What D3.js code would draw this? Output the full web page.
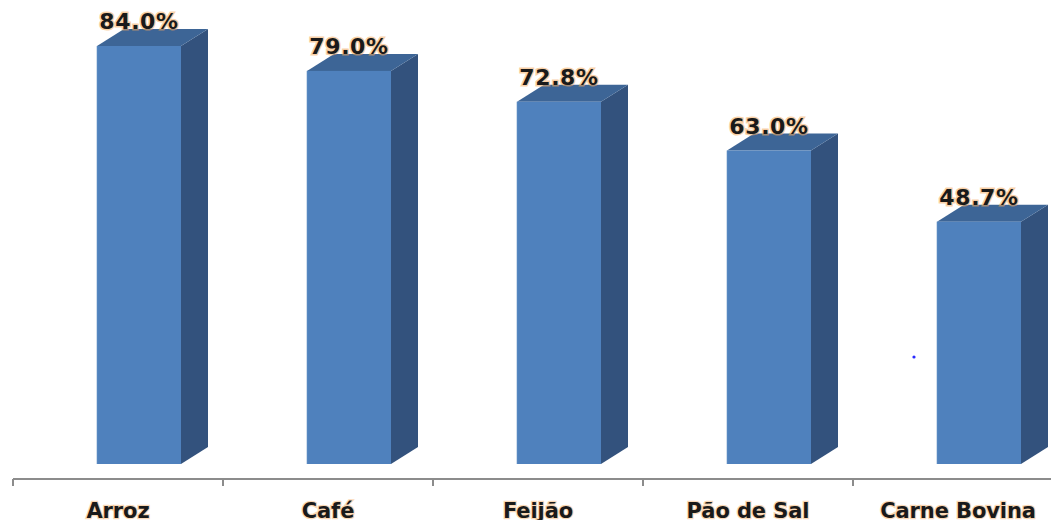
<!DOCTYPE html>
<html>
<head>
<meta charset="utf-8">
<script src="https://cdn.jsdelivr.net/npm/d3@7"></script>
<style>
  html, body { margin: 0; padding: 0; background: #fff; }
  svg { display: block; }
</style>
</head>
<body>
<svg id="chart" width="1051" height="520"></svg>
<script>
const categories = ["Arroz", "Café", "Feijão", "Pão de Sal", "Carne Bovina"];
const values = [84.0, 79.0, 72.8, 63.0, 48.7];
const valueLabels = ["84.0%", "79.0%", "72.8%", "63.0%", "48.7%"];

const svg = d3.select("#chart");
const W = 1051, H = 520;

const x = d3.scaleBand().domain(categories).range([13, 1063]).padding(0);
const y = d3.scaleLinear().domain([0, 84]).range([464, 46]);
const bw = x.bandwidth();
const dx = 27, dy = -17;

const colFront = "#4F81BD", colTop = "#3D6596", colSide = "#33527D";

// axis
const axisY = 479;
const axis = d3.axisBottom(x).tickSize(0).tickFormat("");
const ag = svg.append("g").attr("transform", `translate(0,${axisY})`).call(axis);
ag.select(".domain").attr("stroke", "#8c8c8c").attr("stroke-width", 2)
  .attr("d", `M13,0H${W}`);
ag.selectAll(".tick").remove();
const edges = categories.map(c => x(c));
ag.selectAll("line.edge").data(edges).enter().append("line")
  .attr("class", "edge")
  .attr("x1", d => d).attr("x2", d => d)
  .attr("y1", 0).attr("y2", 7)
  .attr("stroke", "#8c8c8c").attr("stroke-width", 2);

// bars
const data = categories.map((c, i) => ({ c, v: values[i], lab: valueLabels[i] }));
const g = svg.append("g");
const bars = g.selectAll("g.bar").data(data).enter().append("g").attr("class", "bar");

bars.each(function(d) {
  const sel = d3.select(this);
  const x0 = x(d.c) + bw * 0.4, x1 = x(d.c) + bw * 0.8;
  const yt = y(d.v), yb = y(0);
  sel.append("path")
    .attr("d", `M${x1},${yt}L${x1 + dx},${yt + dy}L${x1 + dx},${yb + dy}L${x1},${yb}Z`)
    .attr("fill", colSide);
  sel.append("path")
    .attr("d", `M${x0},${yt}L${x0 + dx},${yt + dy}L${x1 + dx},${yt + dy}L${x1},${yt}Z`)
    .attr("fill", colTop);
  sel.append("rect")
    .attr("x", x0).attr("y", yt).attr("width", x1 - x0).attr("height", yb - yt)
    .attr("fill", colFront);
  sel.append("line")
    .attr("x1", x0).attr("x2", x0).attr("y1", yt).attr("y2", yb)
    .attr("stroke", "#6a95c9").attr("stroke-width", 1).attr("opacity", 0.6);
});

// value labels
bars.append("text")
  .attr("x", d => x(d.c) + bw * 0.6)
  .attr("y", d => y(d.v) - 17)
  .attr("text-anchor", "middle")
  .attr("font-family", "DejaVu Sans, Verdana, sans-serif")
  .attr("font-weight", "bold")
  .attr("font-size", 22)
  .attr("letter-spacing", 0.6)
  .attr("fill", "#1a1a1a")
  .attr("stroke", "rgba(245,170,90,0.55)")
  .attr("stroke-width", 3)
  .attr("paint-order", "stroke")
  .text(d => d.lab);

// category labels
svg.append("g").selectAll("text").data(categories).enter().append("text")
  .attr("x", d => x(d) + bw / 2)
  .attr("y", 518)
  .attr("text-anchor", "middle")
  .attr("font-family", "DejaVu Sans, Verdana, sans-serif")
  .attr("font-weight", "bold")
  .attr("font-size", 21)
  .attr("letter-spacing", -0.1)
  .attr("fill", "#1a1a1a")
  .attr("stroke", "rgba(245,170,90,0.45)")
  .attr("stroke-width", 2.5)
  .attr("paint-order", "stroke")
  .text(d => d);

// stray dot in reference
svg.append("circle").attr("cx", 914).attr("cy", 357).attr("r", 1.6).attr("fill", "#2a2aff");
</script>
</body>
</html>
